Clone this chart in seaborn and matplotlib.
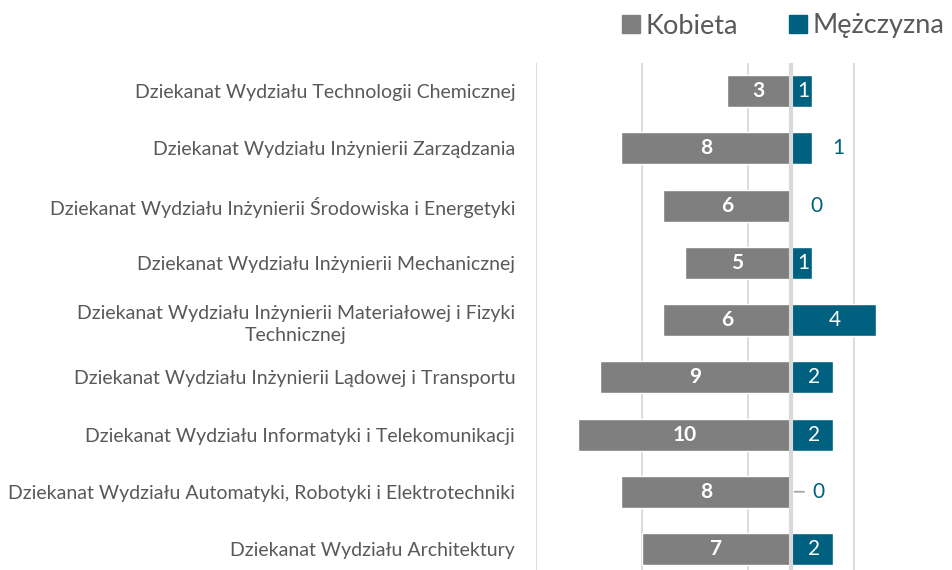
import pandas as pd
import numpy as np
import matplotlib
matplotlib.use('Agg')
import matplotlib.pyplot as plt
import seaborn as sns

# categories, top to bottom
wydzialy = [
    'Dziekanat Wydziału Technologii Chemicznej',
    'Dziekanat Wydziału Inżynierii Zarządzania',
    'Dziekanat Wydziału Inżynierii Środowiska i Energetyki',
    'Dziekanat Wydziału Inżynierii Mechanicznej',
    'Dziekanat Wydziału Inżynierii Materiałowej i Fizyki\nTechnicznej',
    'Dziekanat Wydziału Inżynierii Lądowej i Transportu',
    'Dziekanat Wydziału Informatyki i Telekomunikacji',
    'Dziekanat Wydziału Automatyki, Robotyki i Elektrotechniki',
    'Dziekanat Wydziału Architektury',
]
kobieta = [3, 8, 6, 5, 6, 9, 10, 8, 7]
mezczyzna = [1, 1, 0, 1, 4, 2, 2, 0, 2]
# where Excel put the male data label
etykieta_m = ['in', 'out', 'out', 'in', 'in', 'in', 'in', 'leader', 'in']

GREY = '#7f7f7f'
TEAL = '#006080'
TXT = '#595959'
GRID = '#d9d9d9'

sns.set_theme(style='white')
plt.rcParams['font.family'] = ['Lato', 'DejaVu Sans']

df = pd.DataFrame({
    'wydzial': wydzialy * 2,
    'wartosc': [-k for k in kobieta] + mezczyzna,
    'plec': ['Kobieta'] * len(wydzialy) + ['Mężczyzna'] * len(wydzialy),
})

fig = plt.figure(figsize=(9.52, 5.7), dpi=100)
ax = fig.add_axes([536 / 952, -7.6 / 570, 416 / 952, 515 / 570])

sns.barplot(data=df, y='wydzial', x='wartosc', hue='plec', orient='h', dodge=False,
            palette={'Kobieta': GREY, 'Mężczyzna': TEAL}, width=0.56,
            order=wydzialy, hue_order=['Kobieta', 'Mężczyzna'], legend=False,
            saturation=1, ax=ax, zorder=2)

ax.set_xlim(-12, 7.6)
ax.set_ylim(len(wydzialy) - 0.5, -0.5)
ax.set_xticks([-12, -7, -2, 3])
ax.xaxis.grid(True, color=GRID, linewidth=1.3, zorder=0)
ax.set_axisbelow(True)
ax.axvline(0, color=GRID, linewidth=3, zorder=3)
ax.tick_params(axis='x', bottom=False, labelbottom=False)
ax.tick_params(axis='y', left=False, pad=9)
for s in ax.spines.values():
    s.set_visible(False)
ax.set_xlabel('')
ax.set_ylabel('')
for lab in ax.get_yticklabels():
    lab.set_fontsize(14)
    lab.set_color(TXT)
    lab.set_multialignment('center')
    lab.set_linespacing(1.4)

for i, (k, m, e) in enumerate(zip(kobieta, mezczyzna, etykieta_m)):
    ax.text(-k / 2, i, str(k), ha='center', va='center', color='white',
            fontsize=15, fontweight='bold', zorder=4)
    if e == 'in':
        ax.text(m / 2 + 0.1, i, str(m), ha='center', va='center', color='white',
                fontsize=15, zorder=4)
    else:
        ax.annotate(str(m), xy=(m + 0.1, i), xytext=(24 if e == 'out' else 26, 0),
                    textcoords='offset pixels', ha='center', va='center',
                    color=TEAL, fontsize=15, zorder=4)
        if e == 'leader':
            ax.annotate('', xy=(0.05, i), xytext=(15, 0), textcoords='offset pixels',
                        arrowprops=dict(arrowstyle='-', color='#a6a6a6', lw=1.3))

handles = [plt.Rectangle((0, 0), 1, 1, color=GREY), plt.Rectangle((0, 0), 1, 1, color=TEAL)]
fig.legend(handles, ['Kobieta', 'Mężczyzna'], loc='center right', bbox_to_anchor=(1.006, 1 - 26 / 570),
           ncol=2, frameon=False, fontsize=19.5, handlelength=0.65, handleheight=0.65,
           handletextpad=0.2, columnspacing=1.9, labelcolor=TXT, borderaxespad=0.1)

fig.savefig('out.png', dpi=100)
